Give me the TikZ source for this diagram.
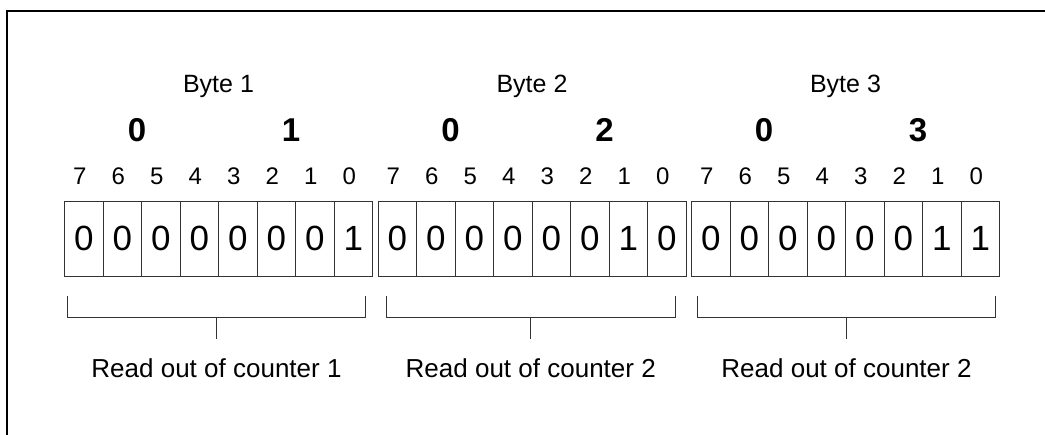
\documentclass[tikz,border=0pt]{standalone}
\usepackage{fontspec}
\setmainfont{Liberation Sans}

\begin{document}
\begin{tikzpicture}[x=1pt, y=-1pt,
	cell/.style={draw=black!80, line width=0.9pt, minimum width=38.5pt, minimum height=75pt, inner sep=0pt, font=\fontsize{35}{40}\selectfont},
	bytelabel/.style={anchor=base, inner sep=0pt, font=\fontsize{25}{30}\selectfont},
	nibble/.style={anchor=base, inner sep=0pt, font=\fontsize{33}{38}\selectfont\bfseries},
	bitno/.style={anchor=base, inner sep=0pt, font=\fontsize{24}{28}\selectfont},
	readout/.style={anchor=base, inner sep=0pt, font=\fontsize{26}{30}\selectfont},
	bracket/.style={draw=black!80, line width=0.9pt}]
	\useasboundingbox (0,0) rectangle (1045,435);
	\clip (0,0) rectangle (1045,435);
	% frame, cut off at the right and bottom
	\draw[line width=2.2pt] (7,445) -- (7,11) -- (1055,11);
	\foreach \b/\x/\hi/\lo/\bits/\cnt/\bl/\br in {
		1/64.5/0/1/{0,0,0,0,0,0,0,1}/1/67.5/365.5,
		2/378/0/2/{0,0,0,0,0,0,1,0}/2/386.5/675,
		3/691.5/0/3/{0,0,0,0,0,0,1,1}/2/697.5/995.5} {
		\node[bytelabel] (byte\b) at (\x+154,93) {Byte \b};
		\node[nibble] (hi\b) at (\x+72.5,142) {\hi};
		\node[nibble] (lo\b) at (\x+226.5,142) {\lo};
		\foreach \v [count=\i from 0] in \bits {
			\pgfmathtruncatemacro\n{7-\i}
			\node[cell] (c\b-\i) at (\x+38.5*\i+19.25,238.5) {\v};
			\node[bitno] (n\b-\i) at (\x+38.5*\i+15.25,185) {\n};
		}
		% bracket under the byte
		\coordinate (bl\b) at (\bl,296);
		\coordinate (br\b) at (\br,296);
		\coordinate (tip\b) at ({(\bl+\br)/2},339);
		\draw[bracket] (bl\b) -- ++(0,21) -| (br\b);
		\draw[bracket] (tip\b) -- ++(0,-22);
		\node[readout] (read\b) at ({(\bl+\br)/2},378) {Read out of counter \cnt};
	}
\end{tikzpicture}
\end{document}
